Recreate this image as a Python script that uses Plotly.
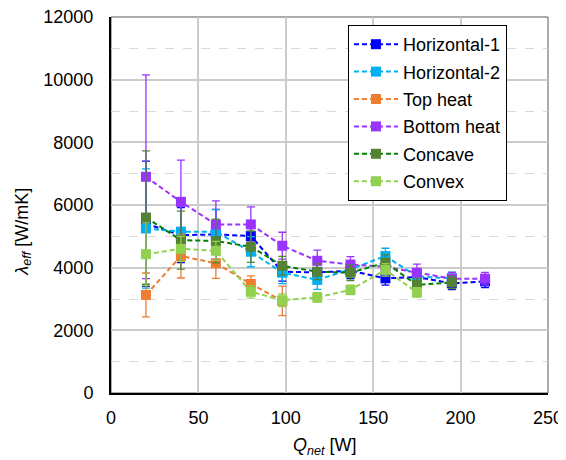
import plotly.graph_objects as go

# ---- data ----
Q = [20, 40, 60, 80, 98, 118, 137, 157, 175, 195, 214]

h1_y   = [5400, 5040, 5060, 5010, 3870, 3850, 3900, 3660, 3700, 3500, 3560]
h1_err = [2000, 880, 800, 400, 300, 250, 250, 220, 200, 200, 200]

h2_y   = [5250, 5150, 5150, 4510, 3840, 3610, 3950, 4370, 3720, 3660]
h2_err = [1900, 900, 700, 480, 350, 300, 250, 250, 250, 200]

top_y   = [3130, 4370, 4140, 3480, 2940]
top_err = [700, 700, 480, 260, 470]

bot_y   = [6900, 6100, 5380, 5380, 4700, 4220, 4100, 4030, 3840, 3650, 3650]
bot_err = [3250, 1330, 750, 560, 430, 340, 250, 250, 270, 200, 200]

cc_y   = [5600, 4880, 4850, 4670, 4060, 3870, 3840, 4160, 3450, 3530]
cc_err = [2130, 925, 700, 500, 300, 250, 250, 250, 200, 200]

cv_y   = [4430, 4600, 4540, 3230, 2960, 3050, 3290, 3930, 3210]
cv_err = [1000, 400, 300, 200, 200, 150, 150, 200, 150]

x_ticks = [0, 50, 100, 150, 200, 250]
y_ticks = [0, 2000, 4000, 6000, 8000, 10000, 12000]
x_ticktext = ["0", "50", "100", "150", "200", "250"]
y_ticktext = ["0", "2000", "4000", "6000", "8000", "10000", "12000"]

series = [
    ("Horizontal-1", h1_y, h1_err, "#0000FF", "#0000FF"),
    ("Horizontal-2", h2_y, h2_err, "#00B0F0", "#00B0F0"),
    ("Top heat", top_y, top_err, "#ED7D31", "#ED7D31"),
    ("Bottom heat", bot_y, bot_err, "#9933FF", "#9933FF"),
    ("Concave", cc_y, cc_err, "#008000", "#548235"),
    ("Convex", cv_y, cv_err, "#92D050", "#92D050"),
]

FONT = "Liberation Sans, Arial, sans-serif"
FS = 18

fig = go.Figure()
for i, (name, ys, errs, lc, mc) in enumerate(series):
    fig.add_trace(go.Scatter(
        x=Q[:len(ys)], y=ys, name=name, mode="lines+markers",
        legendgroup=f"g{i}",
        line=dict(color=lc, width=2, dash="5px,3px"),
        marker=dict(symbol="square", size=10, color=mc),
        error_y=dict(type="data", array=errs, visible=True,
                     color=mc, thickness=1.3, width=4),
    ))

# page body has an 8px default margin -> compensate
OFF = 8
W, H = 566 - OFF, 460 - OFF
L, R, T, B = 110.5, 548.5, 17, 393   # target plot box in window pixels
l, r, t, b = L - OFF, 566 - R, T - OFF, 460 - B

fig.update_layout(
    width=W, height=H,
    margin=dict(l=l, r=r, t=t, b=b, pad=0, autoexpand=False),
    paper_bgcolor="white", plot_bgcolor="white",
    font=dict(family=FONT, size=FS, color="black"),
    showlegend=True,
    legend=dict(x=(348 - L) / (R - L), y=(B - 25) / (B - T),
                xanchor="left", yanchor="top",
                bgcolor="white", bordercolor="black", borderwidth=1,
                font=dict(family=FONT, size=FS), tracegroupgap=1,
                itemwidth=44),
    xaxis=dict(range=[0, 250], tickvals=x_ticks, ticktext=x_ticktext,
               showgrid=True, automargin=False, ticklabeloverflow="allow",
               gridcolor="#cccccc", gridwidth=1.5, zeroline=False,
               showline=True, linecolor="black", linewidth=2,
               ticks="", ticklabelstandoff=7),
    yaxis=dict(range=[0, 12000], tickvals=y_ticks, ticktext=y_ticktext,
               showgrid=True, automargin=False, ticklabeloverflow="allow",
               gridcolor="#cccccc", gridwidth=1.5, zeroline=False,
               showline=True, linecolor="black", linewidth=2,
               ticks="", ticklabelstandoff=12,
               minor=dict(dtick=1000, showgrid=True, griddash="dash",
                          gridcolor="#d9d9d9", gridwidth=1)),
    shapes=[dict(type="rect", xref="paper", yref="paper", x0=0, y0=0,
                 x1=1, y1=1, line=dict(color="#595959", width=1),
                 layer="below")],
    annotations=[
        dict(text="<i>λ</i><sub><i>eff</i></sub> [W/mK]", xref="paper",
             yref="paper", x=(22 - L) / (R - L), y=(B - 232) / (B - T),
             textangle=-90, showarrow=False, xanchor="center",
             yanchor="middle", font=dict(family=FONT, size=FS)),
        dict(text="<i>Q</i><sub><i>net</i></sub> [W]", xref="paper",
             yref="paper", x=(325 - L) / (R - L), y=-(446 - B) / (B - T),
             showarrow=False, xanchor="center", yanchor="middle",
             font=dict(family=FONT, size=FS)),
    ],
)

fig.write_html("out.html")
